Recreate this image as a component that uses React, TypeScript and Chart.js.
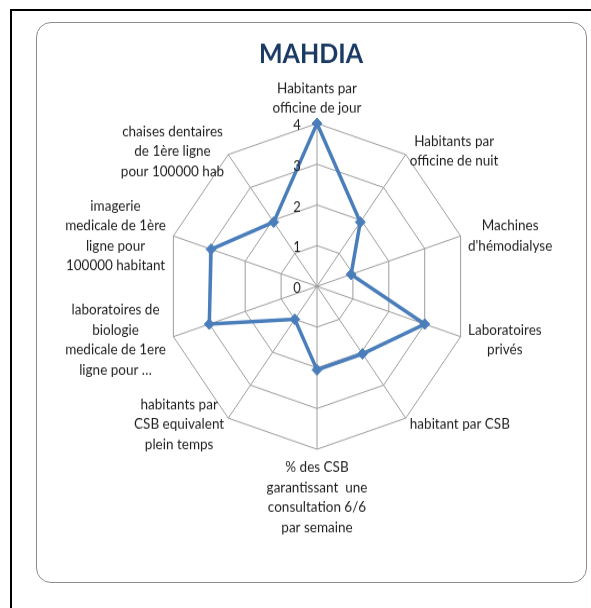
import React, { useEffect, useRef } from "react";
import { Chart, registerables } from "chart.js";

Chart.register(...registerables);

const TITLE = "MAHDIA";

const CATEGORIES: string[][] = [
  ["Habitants par", "officine de jour"],
  ["Habitants par", "officine de nuit"],
  ["Machines", "d'hémodialyse"],
  ["Laboratoires", "privés"],
  ["habitant par CSB"],
  ["% des CSB", "garantissant  une", "consultation 6/6", "par semaine"],
  ["habitants par", "CSB equivalent", "plein temps"],
  ["laboratoires de", "biologie", "medicale de 1ere", "ligne pour …"],
  ["imagerie", "medicale de 1ère", "ligne pour", "100000 habitant"],
  ["chaises dentaires", "de 1ère ligne", "pour 100000 hab"],
];

const VALUES: number[] = [4, 1.95, 0.95, 3, 2.05, 2.05, 1, 3, 2.95, 1.95];

const TICKS: number[] = [0, 1, 2, 3, 4];

const STRETCH = 561 / 520;
const LINE_COLOR = "#4A7EBB";
const GRID_COLOR = "#9c9c9c";
const TEXT_COLOR = "#1e1e1e";
const TITLE_COLOR = "#1B3A63";
const FONT = "Lato, 'Open Sans', sans-serif";

const labelsPlugin = {
  id: "excelLabels",
  afterDraw(chart: any) {
    const scale = chart.scales.r;
    const ctx: CanvasRenderingContext2D = chart.ctx;
    ctx.save();
    // title
    ctx.font = `bold 25px ${FONT}`;
    ctx.fillStyle = TITLE_COLOR;
    ctx.textAlign = "center";
    ctx.textBaseline = "alphabetic";
    ctx.fillText(TITLE, chart.width / 2, 38);

    // tick labels
    ctx.font = `13px ${FONT}`;
    ctx.fillStyle = TEXT_COLOR;
    ctx.textBaseline = "middle";
    TICKS.forEach((t) => {
      const d = scale.getDistanceFromCenterForValue(t);
      ctx.fillText(String(t), scale.xCenter - 20, scale.yCenter - d + 2 / STRETCH);
    });

    // point labels
    ctx.font = `13.5px ${FONT}`;
    const lh = 18.5;
    const n = CATEGORIES.length;
    CATEGORIES.forEach((lines, i) => {
      const a = (i / n) * 2 * Math.PI;
      const p = scale.getPointPosition(i, scale.drawingArea);
      const maxW = Math.max(...lines.map((l) => ctx.measureText(l).width));
      const blockH = lines.length * lh;
      const s = Math.sin(a);
      const c = Math.cos(a);
      let cx: number;
      let top: number;
      if (Math.abs(s) < 1e-6) {
        cx = p.x;
        if (c > 0) {
          top = p.y - 14 - (lines.length - 1) * lh - lh / 2;
        } else {
          top = p.y + 17 - lh / 2;
        }
      } else {
        const gap = 2 + 6 * s * s;
        cx = s > 0 ? p.x + gap + maxW / 2 : p.x - gap - maxW / 2;
        const centerY = p.y + (-6 * c + 1.5) / STRETCH;
        top = centerY - blockH / 2;
      }
      lines.forEach((l, k) => ctx.fillText(l, cx, top + lh * (k + 0.5)));
    });
    ctx.restore();
  },
};

export default function App() {
  const canvasRef = useRef<HTMLCanvasElement | null>(null);

  useEffect(() => {
    if (!canvasRef.current) return;
    const chart = new Chart(canvasRef.current, {
      type: "radar",
      data: {
        labels: CATEGORIES.map((l) => l.join(" ")),
        datasets: [
          {
            data: VALUES,
            borderColor: LINE_COLOR,
            backgroundColor: LINE_COLOR,
            borderWidth: 3.5,
            fill: false,
            tension: 0,
            pointStyle: "rectRot",
            pointRadius: 5,
            pointBorderWidth: 1,
            pointBackgroundColor: LINE_COLOR,
            pointBorderColor: LINE_COLOR,
          },
        ],
      },
      options: {
        responsive: false,
        animation: false,
        layout: { padding: { left: 130, right: 118, top: 94, bottom: 124 } },
        plugins: {
          legend: { display: false },
          tooltip: { enabled: false },
          title: { display: false },
        },
        scales: {
          r: {
            min: 0,
            max: 4,
            ticks: { display: false, stepSize: 1 },
            pointLabels: { display: false },
            grid: { color: GRID_COLOR, lineWidth: 1 },
            angleLines: { color: GRID_COLOR, lineWidth: 1 },
          },
        },
      },
      plugins: [labelsPlugin],
    });
    return () => chart.destroy();
  }, []);

  return (
    <div
      style={{
        position: "absolute",
        left: 0,
        top: 0,
        width: 591,
        height: 608,
        overflow: "hidden",
        background: "#ffffff",
      }}
    >
      <div
        style={{
          position: "absolute",
          left: 10,
          top: 9,
          width: 800,
          height: 800,
          borderLeft: "2px solid #000",
          borderTop: "2px solid #000",
        }}
      />
      <div
        style={{
          position: "absolute",
          left: 36,
          top: 22,
          width: 551,
          height: 561,
          boxSizing: "border-box",
          border: "1.5px solid #8c8c8c",
          borderRadius: 15,
        }}
      />
      <canvas
        ref={canvasRef}
        width={550}
        height={520}
        style={{ position: "absolute", left: 36, top: 22, width: 550, height: 561 }}
      />
    </div>
  );
}
